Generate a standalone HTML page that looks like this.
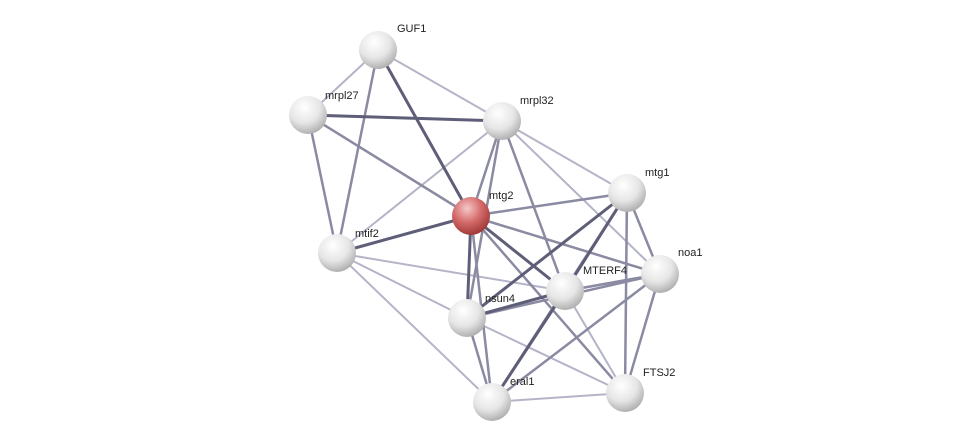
<!DOCTYPE html>
<html><head><meta charset="utf-8"><style>
html,body{margin:0;padding:0;background:#fff;}
svg{display:block;}
text{font-family:"Liberation Sans",sans-serif;font-size:11px;fill:#222;}
</style></head><body>
<svg width="976" height="447" viewBox="0 0 976 447" xmlns="http://www.w3.org/2000/svg">
<defs>
<radialGradient id="g" cx="0.4" cy="0.3" r="0.75">
<stop offset="0" stop-color="#ffffff"/><stop offset="0.55" stop-color="#e6e6e6"/><stop offset="1" stop-color="#a8a8a8"/>
</radialGradient>
<radialGradient id="r" cx="0.4" cy="0.3" r="0.75">
<stop offset="0" stop-color="#f6c8c8"/><stop offset="0.5" stop-color="#d46a6a"/><stop offset="1" stop-color="#9a3232"/>
</radialGradient>
</defs>
<g stroke-linecap="round">
<g stroke="#b4b4c8" stroke-width="2">
<line x1="378" y1="50" x2="308" y2="115"/>
<line x1="378" y1="50" x2="502" y2="121"/>
<line x1="502" y1="121" x2="337" y2="253"/>
<line x1="502" y1="121" x2="627" y2="193"/>
<line x1="502" y1="121" x2="660" y2="274"/>
<line x1="337" y1="253" x2="565" y2="291"/>
<line x1="337" y1="253" x2="467" y2="318"/>
<line x1="337" y1="253" x2="492" y2="402"/>
<line x1="565" y1="291" x2="625" y2="393"/>
<line x1="492" y1="402" x2="625" y2="393"/>
<line x1="467" y1="318" x2="625" y2="393"/>
</g>
<g stroke="#8a8aa2" stroke-width="2.5">
<line x1="378" y1="50" x2="337" y2="253"/>
<line x1="308" y1="115" x2="337" y2="253"/>
<line x1="308" y1="115" x2="471" y2="216"/>
<line x1="502" y1="121" x2="471" y2="216"/>
<line x1="502" y1="121" x2="565" y2="291"/>
<line x1="502" y1="121" x2="467" y2="318"/>
<line x1="471" y1="216" x2="627" y2="193"/>
<line x1="471" y1="216" x2="660" y2="274"/>
<line x1="471" y1="216" x2="492" y2="402"/>
<line x1="471" y1="216" x2="625" y2="393"/>
<line x1="627" y1="193" x2="660" y2="274"/>
<line x1="627" y1="193" x2="625" y2="393"/>
<line x1="627" y1="193" x2="492" y2="402"/>
<line x1="660" y1="274" x2="467" y2="318"/>
<line x1="660" y1="274" x2="565" y2="291"/>
<line x1="660" y1="274" x2="625" y2="393"/>
<line x1="660" y1="274" x2="492" y2="402"/>
<line x1="467" y1="318" x2="492" y2="402"/>
</g>
<g stroke="#5e5e78" stroke-width="3">
<line x1="378" y1="50" x2="471" y2="216"/>
<line x1="308" y1="115" x2="502" y2="121"/>
<line x1="471" y1="216" x2="337" y2="253"/>
<line x1="471" y1="216" x2="565" y2="291"/>
<line x1="471" y1="216" x2="467" y2="318"/>
<line x1="627" y1="193" x2="467" y2="318"/>
<line x1="627" y1="193" x2="565" y2="291"/>
<line x1="565" y1="291" x2="467" y2="318"/>
<line x1="565" y1="291" x2="492" y2="402"/>
</g>
</g>
<g>
<circle cx="378" cy="50" r="19" fill="url(#g)"/>
<circle cx="308" cy="115" r="19" fill="url(#g)"/>
<circle cx="502" cy="121" r="19" fill="url(#g)"/>
<circle cx="627" cy="193" r="19" fill="url(#g)"/>
<circle cx="471" cy="216" r="19" fill="url(#r)"/>
<circle cx="337" cy="253" r="19" fill="url(#g)"/>
<circle cx="660" cy="274" r="19" fill="url(#g)"/>
<circle cx="565" cy="291" r="19" fill="url(#g)"/>
<circle cx="467" cy="318" r="19" fill="url(#g)"/>
<circle cx="492" cy="402" r="19" fill="url(#g)"/>
<circle cx="625" cy="393" r="19" fill="url(#g)"/>
</g>
<text x="397" y="32">GUF1</text>
<text x="325" y="99">mrpl27</text>
<text x="520" y="104">mrpl32</text>
<text x="645" y="176">mtg1</text>
<text x="489" y="199">mtg2</text>
<text x="355" y="237">mtif2</text>
<text x="678" y="256">noa1</text>
<text x="583" y="274">MTERF4</text>
<text x="485" y="302">nsun4</text>
<text x="510" y="385">eral1</text>
<text x="643" y="376">FTSJ2</text>
</svg>
</body></html>
